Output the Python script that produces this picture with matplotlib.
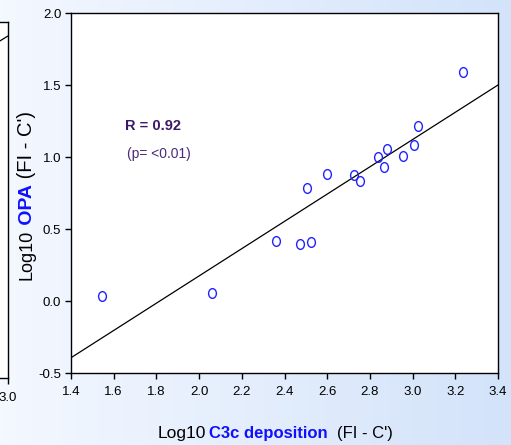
import numpy as np
import matplotlib
matplotlib.use("Agg")
import matplotlib.pyplot as plt
from matplotlib.path import Path
from matplotlib.transforms import Affine2D

plt.rcParams['font.family'] = ['Liberation Sans', 'DejaVu Sans']
plt.rcParams['axes.unicode_minus'] = False

# ---- data ----
c3c_log = [1.547, 2.062, 2.359, 2.473, 2.522, 2.505, 2.597, 2.726, 2.754,
           2.839, 2.866, 2.878, 2.953, 3.005, 3.025, 3.234]
opa_log = [0.037, 0.056, 0.415, 0.398, 0.408, 0.783, 0.880, 0.875, 0.831,
           0.998, 0.931, 1.056, 1.007, 1.085, 1.215, 1.592]
fit_x = [1.4, 3.4]
fit_y = [-0.394, 1.50]
x_ticks = [1.4, 1.6, 1.8, 2.0, 2.2, 2.4, 2.6, 2.8, 3.0, 3.2, 3.4]
x_tick_labels = ["1.4", "1.6", "1.8", "2.0", "2.2", "2.4", "2.6", "2.8", "3.0", "3.2", "3.4"]
y_ticks = [-0.5, 0.0, 0.5, 1.0, 1.5, 2.0]
y_tick_labels = ["-0.5", "0.0", "0.5", "1.0", "1.5", "2.0"]
# neighbouring (cropped) panel on the left
left_fit_x = [2.8, 3.0]
left_fit_y = [1.83, 1.90]
left_ticks = [3.0]
left_tick_labels = ["3.0"]

W, H = 511, 445
fig = plt.figure(figsize=(W / 100, H / 100), dpi=100)

# gradient background
bg = fig.add_axes([0, 0, 1, 1], zorder=-10)
c0 = np.array([244, 248, 255]) / 255
c1 = np.array([211, 227, 250]) / 255
t = np.linspace(0, 1, 256)
grad = (c0[None, :] * (1 - t[:, None]) + c1[None, :] * t[:, None])[None, :, :]
grad = np.repeat(grad, 2, axis=0)
bg.imshow(grad, aspect='auto', extent=[0, 1, 0, 1])
bg.axis('off')

tick_kw = dict(direction='out', length=4, width=1, labelsize=9.5, colors='black')

# left cropped panel
axl = fig.add_axes([-0.3, 1 - 378 / H, 0.3 + 7.5 / W, (378 - 22) / H])
axl.set_facecolor('white')
axl.plot(left_fit_x, left_fit_y, color='black', lw=0.9)
axl.set_xlim(1.0, 3.0)
axl.set_ylim(-0.5, 2.0)
axl.set_xticks(left_ticks)
axl.set_xticklabels(left_tick_labels)
axl.set_yticks([])
axl.spines['left'].set_visible(False)
for s in axl.spines.values():
    s.set_linewidth(1)
axl.tick_params(axis='x', pad=6, **tick_kw)

# main axes
ax = fig.add_axes([71 / W, 1 - 373 / H, (498 - 71) / W, (373 - 13) / H])
ax.set_facecolor('white')

circ = Path.unit_circle()
ell = Path(Affine2D().scale(0.8, 1.0).transform(circ.vertices), circ.codes)
ax.plot(c3c_log, opa_log, linestyle='none', marker=ell, markersize=7,
        markerfacecolor='none', markeredgecolor='#2222ff', markeredgewidth=1.0,
        zorder=3)
ax.plot(fit_x, fit_y, color='black', lw=0.9, zorder=2)

ax.set_xlim(1.4, 3.4)
ax.set_ylim(-0.5, 2.0)
ax.set_xticks(x_ticks)
ax.set_xticklabels(x_tick_labels)
ax.set_yticks(y_ticks)
ax.set_yticklabels(y_tick_labels)
for s in ax.spines.values():
    s.set_linewidth(1)
ax.tick_params(axis='x', pad=5.5, **tick_kw)
ax.tick_params(axis='y', pad=3, **tick_kw)

ax.text(153 / W, 1 - 126 / H, "R = 0.92", transform=fig.transFigure,
        ha='center', va='center', fontsize=10.5, fontweight='bold', color='#3a1a66')
ax.text(159 / W, 1 - 154 / H, "(p= <0.01)", transform=fig.transFigure,
        ha='center', va='center', fontsize=10, color='#4a2a7a')

# x label (mixed styles)
yb = 1 - 438 / H
fig.text(158 / W, yb, "Log10", fontsize=12.5, va='baseline', ha='left', color='black')
fig.text(209 / W, yb, "C3c deposition", fontsize=12, fontweight='bold',
         va='baseline', ha='left', color='#1010ff')
fig.text(337 / W, yb, "(FI - C')", fontsize=12, va='baseline', ha='left', color='black')

# y label (mixed styles, rotated)
t1 = fig.text(27 / W, 1 - 280 / H, "Log10", fontsize=13, rotation=90,
              ha='center', va='bottom', color='black')
a2 = plt.annotate(" OPA", xy=(0.5, 1), xycoords=t1, fontsize=14, fontweight='bold',
                  rotation=90, ha='center', va='bottom', color='#1010ff',
                  annotation_clip=False)
a3 = plt.annotate(" (FI - C')", xy=(0.5, 1), xycoords=a2, fontsize=14.5,
                  rotation=90, ha='center', va='bottom', color='black',
                  annotation_clip=False)

fig.savefig("out.png", dpi=100)
